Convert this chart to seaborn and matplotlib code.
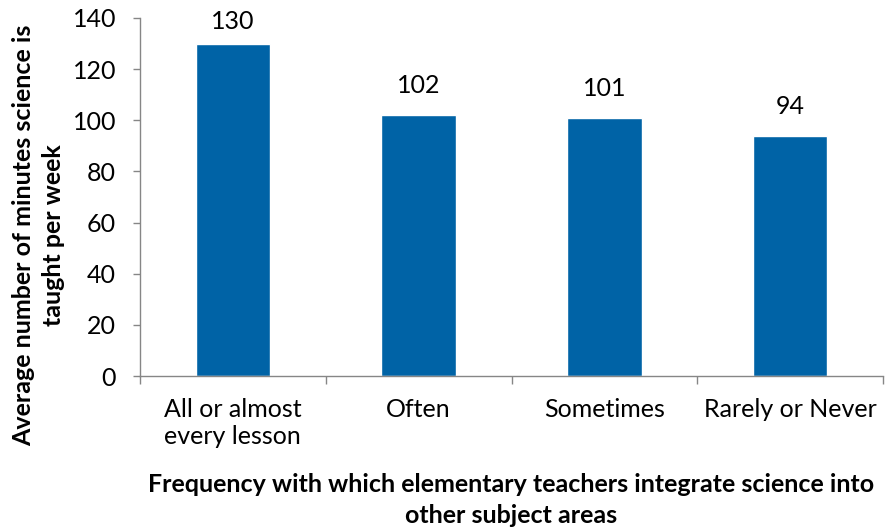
import matplotlib
matplotlib.use("Agg")
import matplotlib.pyplot as plt
import seaborn as sns
import pandas as pd
from matplotlib.ticker import FixedLocator

categories = ["All or almost\nevery lesson", "Often", "Sometimes", "Rarely or Never"]
minutes = [130, 102, 101, 94]
yticks = [0, 20, 40, 60, 80, 100, 120, 140]

sns.set_style("white")
plt.rcParams['font.family'] = ['Lato', 'DejaVu Sans']

df = pd.DataFrame({"cat": categories, "val": minutes})
fig = plt.figure(figsize=(8.85, 5.29), dpi=100)
ax = fig.add_axes([0.158, 0.289, 0.84, 0.677])
sns.barplot(data=df, x="cat", y="val", color="#0063A6", width=0.4, saturation=1, ax=ax)
for i, v in enumerate(minutes):
    ax.text(i, min(v + 7, 134), str(v), ha="center", va="bottom", fontsize=18, color="black")

ax.set_xlim(-0.5, 3.5)
ax.set_ylim(0, 140)
ax.set_yticks(yticks)
ax.tick_params(axis="y", labelsize=18, length=5, width=1, color="#868686", direction="out", pad=12, left=True, labelcolor="black")
ax.tick_params(axis="x", which="major", length=0, labelsize=18, pad=16, labelcolor="black")
ax.xaxis.set_minor_locator(FixedLocator([-0.5, 0.5, 1.5, 2.5, 3.5]))
ax.tick_params(axis="x", which="minor", length=6, width=1, color="#868686", direction="out", bottom=True)
for s in ["top", "right"]:
    ax.spines[s].set_visible(False)
for s in ["left", "bottom"]:
    ax.spines[s].set_color("#868686")
    ax.spines[s].set_linewidth(1)
ax.set_xlabel("Frequency with which elementary teachers integrate science into\nother subject areas",
              fontsize=18, fontweight="bold", labelpad=18, color="black", linespacing=1.4)
ax.set_ylabel("Average number of minutes science is\ntaught per week", fontsize=18, fontweight="bold",
              color="black", linespacing=1.4)
ax.yaxis.set_label_coords(-0.1, 0.394)
fig.savefig("out.png", dpi=100)
